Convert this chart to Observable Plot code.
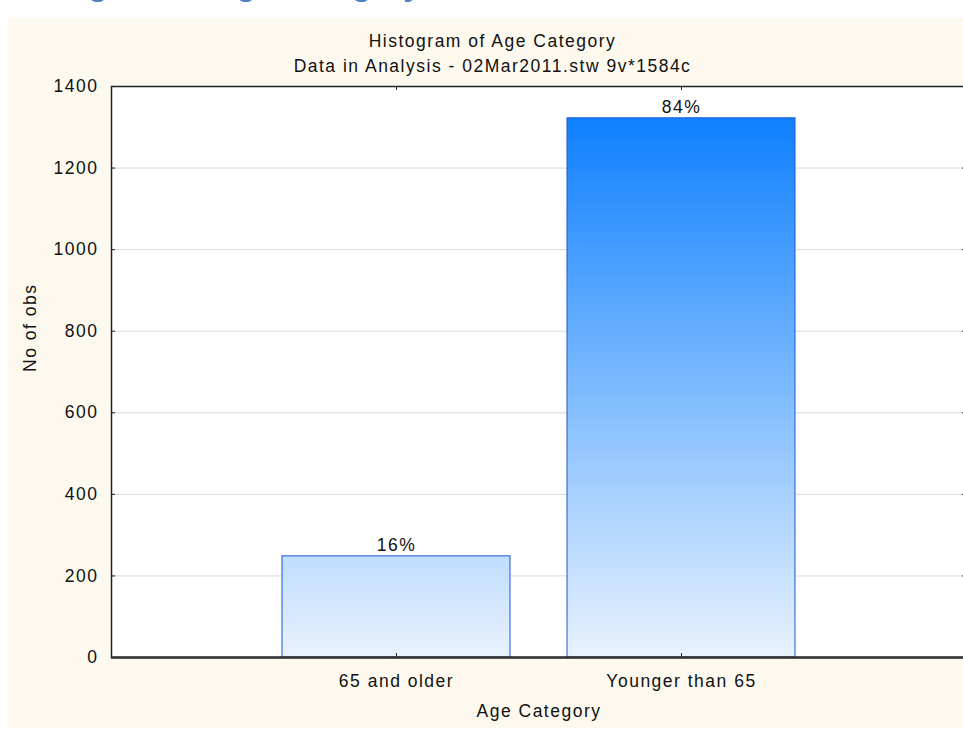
<!DOCTYPE html>
<html><head><meta charset="utf-8">
<script src="https://cdn.jsdelivr.net/npm/d3@7"></script>
<script src="https://cdn.jsdelivr.net/npm/@observablehq/plot@0.6"></script>
<style>
html,body{margin:0;padding:0;background:#fff;overflow:hidden;width:963px;height:729px;}
#heading{position:absolute;left:0;top:0;width:963px;height:18px;overflow:hidden;}
#heading span{position:absolute;left:8px;top:-32px;font:bold 32px/32px "Liberation Sans",Arial,sans-serif;color:#4f81bd;white-space:nowrap;}
#panel{position:absolute;left:8px;top:18px;width:955px;height:710px;background:#fdf9ef;}
#chart{position:absolute;left:0;top:0;width:975px;height:729px;}
#chart svg text{letter-spacing:1.5px;}
</style></head><body>
<div id="heading"><span>Histogram of Age Category</span></div>
<div id="panel"></div>
<div id="chart"></div>
<script>
const categories = ["65 and older", "Younger than 65"];
const counts = [248, 1322];
const percentLabels = ["16%", "84%"];
const yTicks = [0, 200, 400, 600, 800, 1000, 1200, 1400];
const titleText = "Histogram of Age Category";
const subtitleText = "Data in Analysis - 02Mar2011.stw 9v*1584c";
const xLabel = "Age Category";
const yLabel = "No of obs";

const data = categories.map((c, i) => ({cat: c, n: counts[i], pct: percentLabels[i]}));
const FS = 17.5;
const font = "'Liberation Sans', Arial, sans-serif";

const W = 975, H = 729, mL = 111, mR = 9, mT = 86, mB = 72;
const frameW = W - mL - mR;
const frameH = H - mT - mB;

const chart = Plot.plot({
  width: W, height: H,
  marginLeft: mL, marginRight: mR, marginTop: mT, marginBottom: mB,
  style: {background: "transparent", fontFamily: font, fontSize: FS + "px", maxWidth: "none", overflow: "visible", color: "#111"},
  x: {type: "band", domain: categories, paddingInner: 0.2, paddingOuter: 0.6, round: false},
  y: {domain: [0, 1400], round: false},
  marks: [
    Plot.frame({fill: "white", stroke: null}),
    Plot.ruleY(yTicks.filter(v => v > 0 && v < 1400), {stroke: "#d9d9d9", strokeWidth: 1}),
    Plot.barY(data, {x: "cat", y: "n", fill: "url(#barGrad)", stroke: "#1e56d6", strokeWidth: 1}),
    Plot.text(data, {x: "cat", y: "n", text: "pct", dy: -11, fontSize: FS, fill: "#111"}),
    Plot.ruleY(yTicks, {insetRight: frameW - 4, stroke: "#222"}),
    Plot.ruleY(yTicks, {insetLeft: frameW - 4, stroke: "#222"}),
    Plot.ruleX(categories, {x: d => d, insetTop: frameH - 4, stroke: "#222"}),
    Plot.ruleX(categories, {x: d => d, insetBottom: frameH - 4, stroke: "#222"}),
    Plot.frame({stroke: "#222", strokeWidth: 1.5}),
    Plot.ruleY([0], {stroke: "#333", strokeWidth: 2.5}),
    Plot.axisY(yTicks, {tickSize: 0, tickPadding: 13, fontSize: FS, label: null, fill: "#111", tickFormat: d => String(d)}),
    Plot.axisX({tickSize: 0, tickPadding: 17, fontSize: FS, label: null, fill: "#111"}),
    Plot.text([xLabel], {frameAnchor: "bottom", dy: 59, fontSize: FS, fill: "#111"}),
    Plot.text([yLabel], {frameAnchor: "left", dx: -81, rotate: -90, fontSize: FS, fill: "#111"}),
    Plot.text([titleText], {frameAnchor: "top", dx: -46.5, dy: -51.5, fontSize: FS, fill: "#111"}),
    Plot.text([subtitleText], {frameAnchor: "top", dx: -46.5, dy: -26.5, fontSize: FS, fill: "#111"})
  ]
});

const ys = chart.scale("y");
const yb = ys.apply(0), yt = ys.apply(d3.max(counts));
d3.select(chart).insert("defs", ":first-child").html(
  `<linearGradient id="barGrad" gradientUnits="userSpaceOnUse" x1="0" x2="0" y1="${yb}" y2="${yt}">
     <stop offset="0" stop-color="#e8f2fd"/>
     <stop offset="0.5" stop-color="#7cbafe"/>
     <stop offset="1" stop-color="#0f80ff"/>
   </linearGradient>`);

document.getElementById("chart").appendChild(chart);
</script>
</body></html>
